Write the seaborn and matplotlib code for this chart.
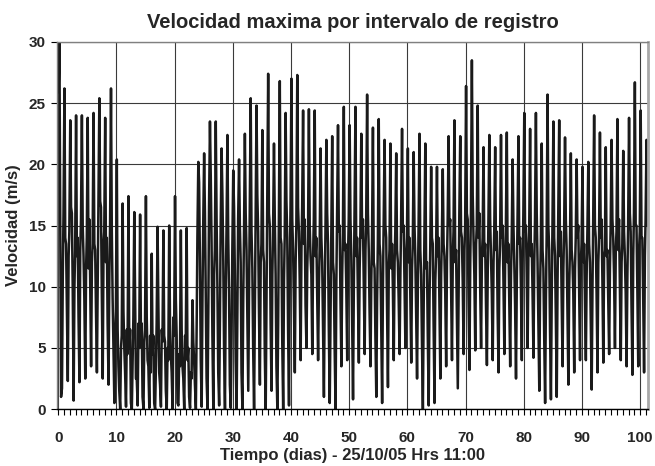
# coding=utf-8
import matplotlib
matplotlib.use("Agg")
from matplotlib import pyplot as plt
from matplotlib.ticker import MultipleLocator
import pandas as pd
import seaborn as sns

# valores, un valor por dia (dia 0 .. 101)
peak = [25.9, 26.2, 23.6, 24.0, 24.0, 23.8, 24.2, 25.4, 23.8, 26.2,
        20.4, 16.8, 17.4, 16.1, 15.9, 17.4, 12.7, 14.9, 14.6, 15.0,
        17.4, 14.6, 14.8, 8.9, 20.2, 20.9, 23.5, 23.5, 21.3, 22.4,
        19.5, 20.4, 22.5, 25.4, 24.8, 22.8, 27.4, 21.7, 26.8, 24.2,
        27.0, 27.3, 24.4, 24.5, 24.4, 21.3, 22.0, 22.3, 23.2, 24.7,
        23.2, 24.7, 22.5, 25.7, 23.0, 23.7, 22.0, 21.7, 20.9, 22.9,
        21.3, 21.0, 22.5, 21.7, 19.8, 19.8, 19.6, 22.3, 23.6, 22.3,
        26.4, 28.5, 24.8, 21.4, 22.4, 21.4, 22.4, 22.6, 20.4, 22.3,
        24.2, 22.9, 24.2, 21.7, 25.7, 23.5, 23.6, 22.2, 20.9, 20.4,
        19.8, 20.2, 24.0, 22.6, 21.4, 22.0, 23.7, 21.1, 23.8, 26.7,
        24.4, 22.0]

fall = [30.0, 14.0, 16.5, 12.5, 15.0, 11.5, 13.5, 17.0, 12.0, 14.5,
        6.5, 8.0, 5.0, 9.5, 6.0, 7.5, 4.5, 8.5, 6.0, 7.0,
        9.0, 6.5, 4.0, 5.5, 18.5, 16.0, 19.0, 15.5, 17.5, 14.0,
        16.5, 15.0, 16.0, 14.5, 17.5, 13.0, 16.0, 15.5, 14.0, 17.0,
        15.5, 16.5, 13.5, 15.0, 12.5, 14.0, 16.0, 12.0, 14.5, 13.0,
        15.5, 12.5, 14.0, 16.0, 12.0, 13.5, 15.0, 11.5, 13.0, 14.5,
        12.0, 15.0, 13.0, 11.5, 14.0, 12.5, 13.5, 15.0, 12.0, 14.5,
        16.0, 17.5, 14.0, 12.5, 15.5, 13.0, 14.0, 12.0, 15.0, 13.5,
        14.5, 12.5, 16.0, 13.0, 15.0, 14.0, 12.5, 15.5, 13.0, 14.0,
        12.0, 13.5, 15.0, 14.0, 12.5, 15.5, 13.0, 14.5, 16.0, 15.0,
        14.0, 15.0]

bump = [15.0, 13.5, 16.0, 14.0, 12.5, 15.5, 13.0, 16.5, 14.0, 9.0,
        3.5, 5.0, 6.5, 2.5, 7.0, 4.0, 6.0, 3.0, 5.5, 4.5,
        6.0, 3.5, 5.0, 4.0, 12.0, 9.0, 13.5, 10.0, 12.5, 9.5,
        11.0, 12.0, 13.0, 11.5, 14.5, 12.0, 15.0, 11.0, 13.5, 14.0,
        13.0, 14.5, 15.5, 12.5, 14.0, 12.0, 13.5, 11.0, 15.0, 13.5,
        12.5, 14.0, 15.5, 13.0, 11.5, 12.5, 14.0, 13.5, 12.0, 15.0,
        14.0, 12.5, 11.0, 12.0, 13.5, 14.0, 12.5, 15.5, 13.0, 14.0,
        15.5, 14.0, 16.0, 13.5, 12.5, 14.5, 15.0, 13.5, 12.0, 14.0,
        15.0, 13.5, 12.0, 11.5, 13.0, 12.5, 14.5, 13.0, 12.0, 15.0,
        13.5, 12.0, 14.0, 15.5, 13.0, 14.0, 15.5, 12.5, 14.5, 15.0,
        14.0, 16.0]

dip = [1.0, 8.5, 10.0, 7.5, 9.0, 10.5, 8.0, 9.5, 7.0, 5.0,
       1.5, 3.0, 0.5, 2.5, 1.0, 3.5, 0.5, 2.0, 1.5, 3.0,
       0.5, 2.5, 1.0, 2.0, 4.0, 2.5, 6.0, 3.0, 5.0, 2.0,
       4.0, 3.0, 7.5, 5.0, 8.0, 4.5, 7.0, 3.5, 5.5, 6.5,
       9.0, 10.5, 8.5, 11.0, 9.5, 7.0, 6.5, 5.0, 9.0, 10.0,
       7.5, 9.5, 10.5, 8.0, 6.0, 7.0, 8.5, 10.0, 9.0, 10.5,
       9.5, 8.0, 5.5, 6.0, 7.0, 8.5, 9.5, 10.0, 7.5, 10.5,
       9.0, 11.0, 10.0, 8.5, 9.5, 8.0, 10.5, 9.0, 8.5, 10.0,
       11.0, 9.5, 7.0, 6.0, 6.5, 7.5, 9.0, 8.0, 9.5, 10.0,
       9.0, 7.0, 9.5, 10.5, 9.0, 11.0, 10.0, 9.5, 8.5, 10.0,
       9.5, 15.0]

trough = [1.7, 2.3, 0.7, 2.2, 2.5, 3.5, 3.0, 2.5, 2.0, 0.5,
          0.0, 0.2, 0.0, 0.3, 0.0, 0.1, 0.0, 0.2, 0.0, 0.0,
          0.3, 0.0, 0.1, 0.0, 0.2, 0.0, 0.0, 0.3, 0.0, 0.1,
          0.0, 0.0, 1.5, 0.0, 2.0, 0.0, 1.5, 0.0, 0.0, 0.3,
          3.0, 4.0, 5.0, 4.5, 4.0, 1.0, 0.5, 0.0, 3.5, 4.0,
          0.8, 3.8, 4.5, 3.5, 1.0, 0.5, 1.8, 4.0, 4.5, 5.0,
          3.8, 2.5, 0.0, 0.3, 0.5, 2.5, 3.5, 4.0, 1.7, 4.5,
          3.2, 4.8, 5.0, 3.6, 4.0, 3.0, 4.5, 3.5, 2.5, 4.0,
          5.0, 4.2, 1.5, 0.5, 0.8, 1.0, 3.5, 2.0, 3.0, 4.0,
          4.0, 1.6, 3.0, 3.8, 4.5, 5.0, 4.0, 3.5, 2.8, 3.5,
          3.0, 12.0]

rise = [11.0, 12.5, 10.0, 13.0, 11.5, 12.0, 10.5, 13.5, 11.0, 6.0,
        5.0, 6.5, 4.0, 7.0, 5.5, 6.0, 3.5, 6.5, 5.0, 7.5,
        4.5, 6.0, 3.0, 7.0, 9.5, 8.0, 11.0, 7.5, 10.0, 6.5,
        8.5, 9.0, 10.0, 8.5, 12.0, 9.0, 11.0, 7.0, 10.5, 11.5,
        12.0, 13.0, 11.5, 12.5, 10.0, 9.5, 8.0, 10.5, 11.0, 12.5,
        10.0, 11.5, 13.0, 10.5, 9.0, 10.0, 11.5, 12.0, 11.0, 12.5,
        11.5, 10.0, 8.5, 9.0, 10.5, 11.0, 12.0, 12.5, 10.0, 13.0,
        12.0, 13.5, 12.5, 11.0, 12.0, 11.5, 12.5, 11.0, 10.5, 12.0,
        13.0, 12.0, 10.0, 9.0, 9.5, 10.5, 11.5, 10.0, 11.5, 12.0,
        11.0, 10.0, 12.0, 12.5, 11.5, 13.0, 12.0, 11.0, 12.5, 13.0,
        12.5, 17.0]

pre = [16.0, 14.5, 13.0, 15.5, 14.0, 13.5, 16.0, 14.5, 15.0, 8.0,
       6.0, 4.5, 7.5, 5.0, 6.5, 3.0, 7.0, 5.5, 4.0, 6.0,
       3.5, 5.5, 2.5, 14.0, 15.0, 16.5, 13.0, 15.0, 14.5, 13.0,
       15.5, 14.0, 16.5, 15.0, 13.5, 16.0, 14.5, 15.5, 14.0, 16.5,
       15.0, 16.5, 14.0, 15.5, 13.0, 14.5, 15.0, 16.0, 14.5, 15.5,
       16.0, 14.5, 15.5, 14.0, 13.5, 15.0, 13.0, 14.5, 15.5, 14.0,
       13.5, 15.0, 14.0, 13.0, 12.5, 14.0, 15.5, 14.5, 16.0, 15.0,
       16.5, 15.0, 14.0, 15.5, 14.5, 13.5, 15.0, 14.0, 15.5, 16.0,
       14.5, 15.5, 13.5, 14.0, 15.0, 16.0, 14.5, 13.0, 14.0, 13.5,
       14.5, 15.5, 14.0, 13.0, 15.0, 14.5, 13.5, 15.0, 16.0, 14.5,
       15.5, 16.5]

# fraccion del dia de cada registro
slots = [0.08, 0.22, 0.36, 0.50, 0.66, 0.80, 0.92]

dias, vel = [], []
for n in range(len(peak)):
    vals = [peak[n], fall[n], bump[n], dip[n], trough[n], rise[n], pre[n]]
    for off, v in zip(slots, vals):
        dias.append(n + off)
        vel.append(v)
df = pd.DataFrame({"dia": dias, "vel": vel})

sns.set_style("ticks")
plt.rcParams['font.family'] = ['Liberation Sans', 'DejaVu Sans']

fig, ax = plt.subplots(figsize=(6.55, 4.66), dpi=100)
fig.subplots_adjust(left=0.087, right=0.989, top=0.910, bottom=0.122)

sns.lineplot(data=df, x="dia", y="vel", estimator=None, sort=False,
             color="#1a1a1a", linewidth=1.8, ax=ax)

ax.set_xlim(-0.2, 101.3)
ax.set_ylim(0, 30)
ax.xaxis.set_major_locator(MultipleLocator(10))
ax.xaxis.set_minor_locator(MultipleLocator(1))
ax.yaxis.set_major_locator(MultipleLocator(5))
ax.grid(True, which='major', color='#3a3a3a', linewidth=0.8)
ax.set_axisbelow(True)

ax.tick_params(which='both', direction='out', length=4, width=0.8, color='black')
ax.tick_params(axis='x', labelsize=11, pad=12)
ax.tick_params(axis='y', labelsize=11, pad=4)
for lab in ax.get_xticklabels() + ax.get_yticklabels():
    lab.set_fontweight('bold')

for s in ['top', 'left']:
    ax.spines[s].set_color('#808080')
    ax.spines[s].set_linewidth(1.0)
ax.spines['right'].set_color('#a8a8a8')
ax.spines['right'].set_linewidth(2.0)
ax.spines['bottom'].set_color('black')
ax.spines['bottom'].set_linewidth(1.0)

ax.set_title("Velocidad maxima por intervalo de registro", fontweight='bold', fontsize=14.5, pad=10)
ax.set_xlabel("Tiempo (dias) - 25/10/05 Hrs 11:00", fontweight='bold', fontsize=12, labelpad=2)
ax.set_ylabel("Velocidad (m/s)", fontweight='bold', fontsize=12, labelpad=6)

plt.savefig("out.png", dpi=100)
